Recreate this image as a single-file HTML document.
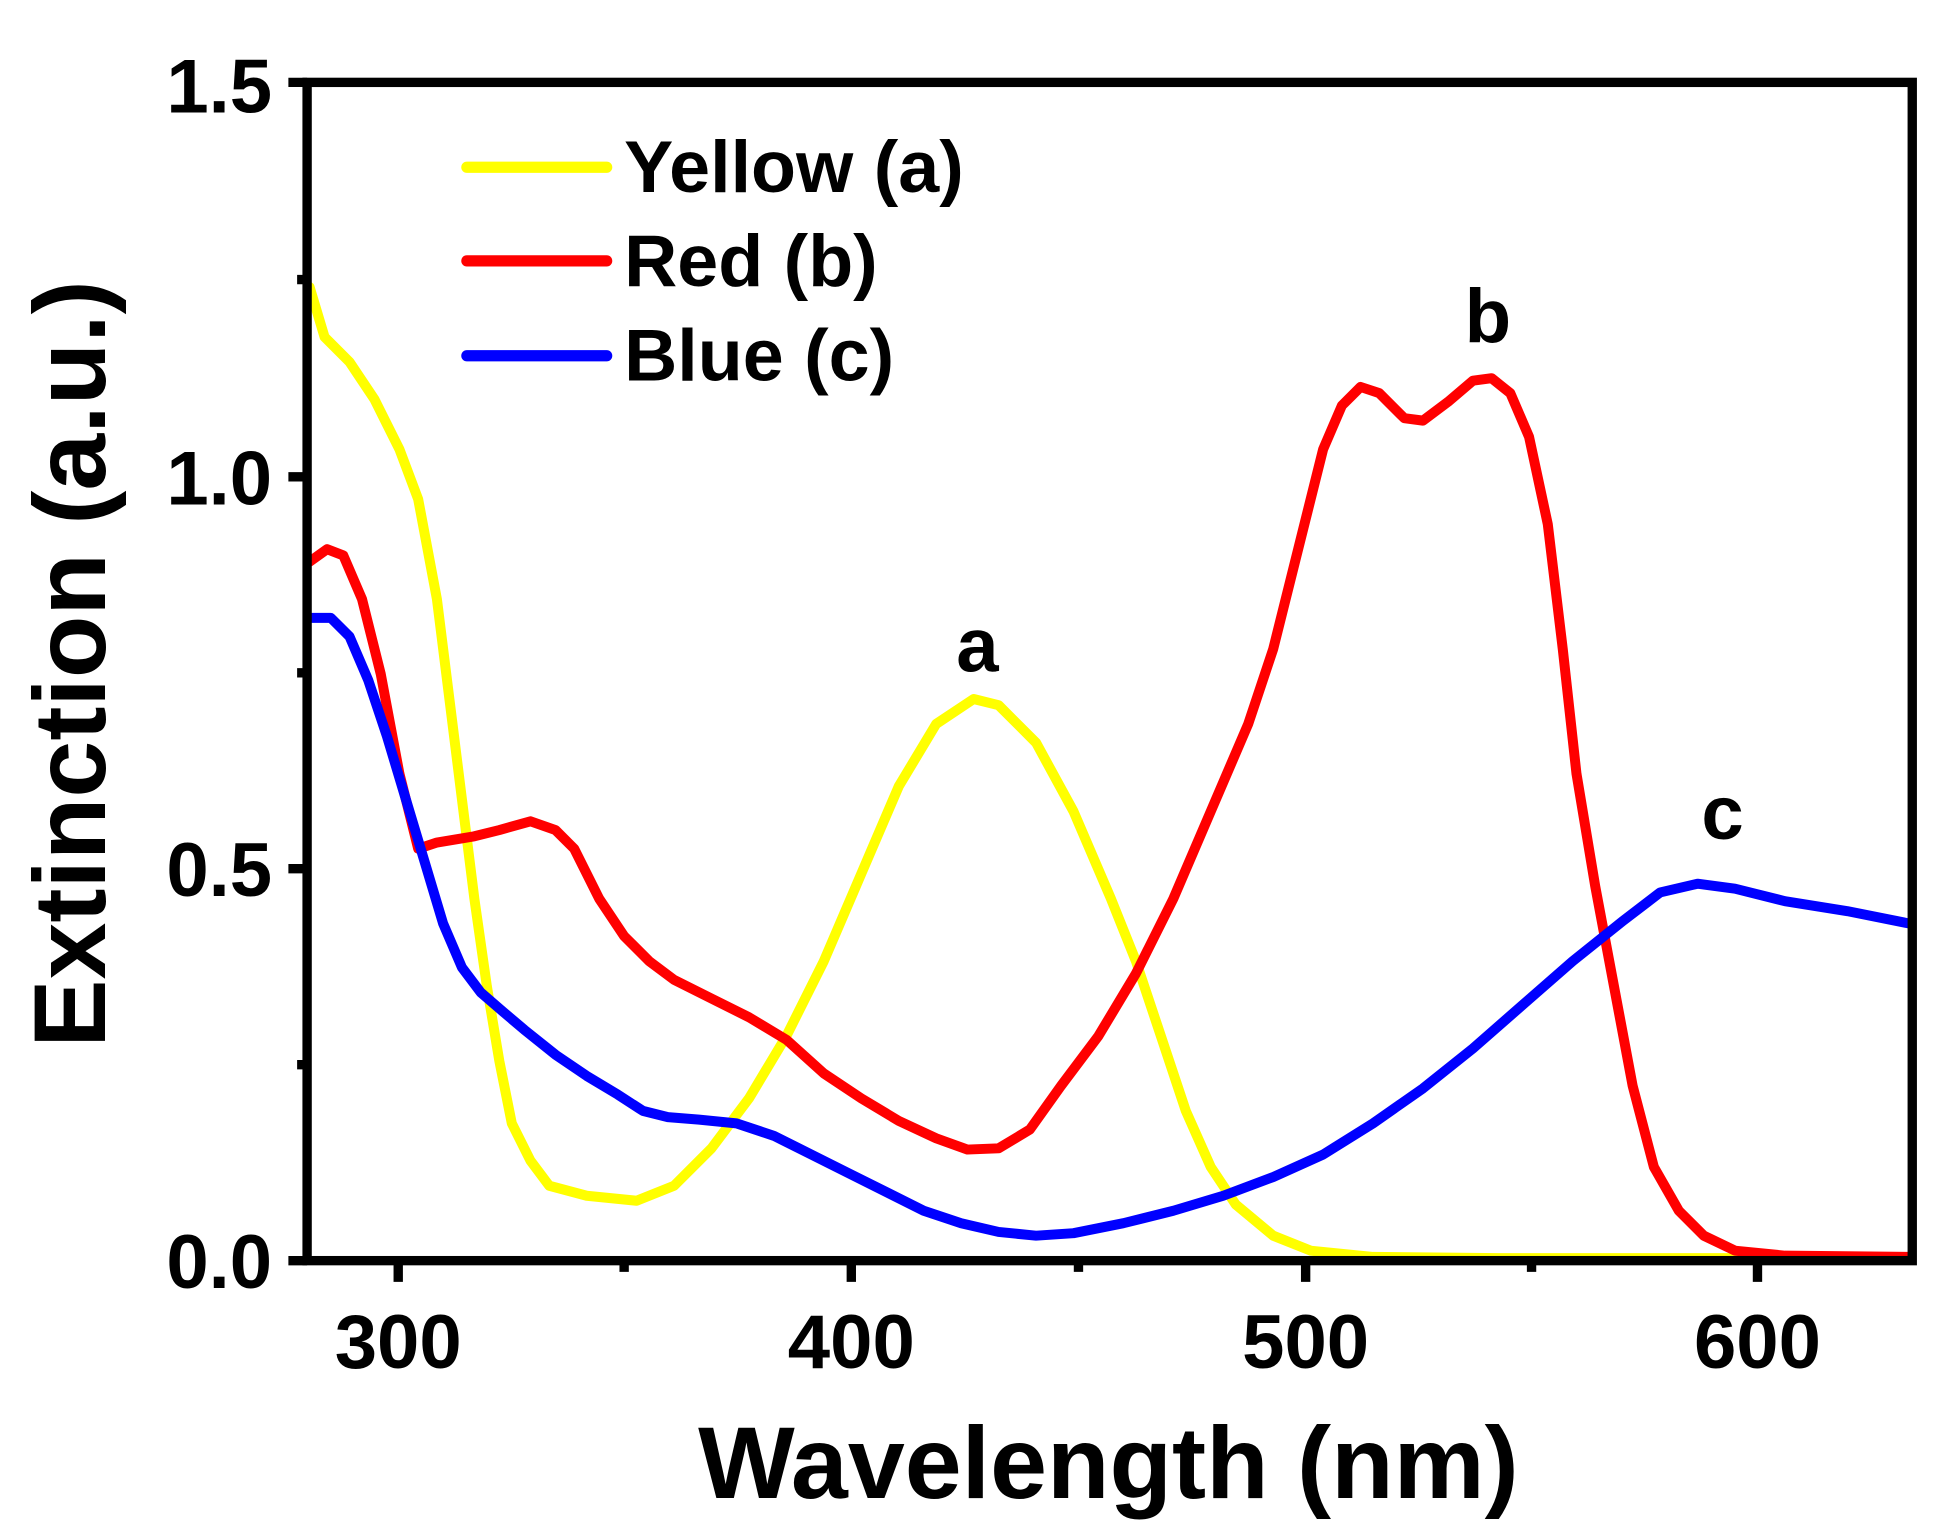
<!DOCTYPE html>
<html><head><style>html,body{margin:0;padding:0;background:#fff}svg{display:block}</style></head>
<body>
<svg width="1951" height="1534" viewBox="0 0 1563 1229" xmlns="http://www.w3.org/2000/svg" font-family="Liberation Sans, Arial, sans-serif" font-weight="bold">
<rect width="1563" height="1229" fill="#fff"/>
<g fill="none" stroke-linejoin="round" stroke-linecap="round" stroke-width="8">
<polyline stroke="#ffff00" points="248,230 260,270 280,290 300,320 320,360 335,400 350,480 360,560 370,640 380,720 390,790 400,850 410,900 425,930 440,950 470,958 510,962 540,950 570,920 600,880 630,830 660,770 690,700 720,630 750,580 780,560 800,565 830,595 860,650 890,720 910,770 930,830 950,890 970,935 990,965 1020,990 1050,1002 1100,1007 1200,1008 1530,1008"/>
<polyline stroke="#ff0000" points="248,450 262,440 275,445 290,480 305,540 320,620 335,680 350,675 380,670 400,665 425,658 445,665 460,680 480,720 500,750 520,770 540,785 570,800 600,815 630,833 660,860 690,880 720,898 750,912 775,921 800,920 825,905 850,870 880,830 910,780 940,720 970,650 1000,580 1020,520 1040,440 1060,360 1075,325 1090,310 1105,315 1125,335 1140,337 1160,322 1180,305 1195,303 1210,315 1225,350 1240,420 1252,520 1263,620 1278,710 1293,790 1308,870 1325,935 1345,970 1365,990 1390,1002 1430,1006 1530,1007"/>
<polyline stroke="#0000ff" points="250,495 265,495 280,510 295,545 310,590 325,640 340,690 355,740 370,775 385,795 400,808 420,825 445,845 470,862 495,877 515,890 535,895 560,897 590,900 620,910 650,925 680,940 710,955 740,970 770,980 800,987 830,990 860,988 900,980 940,970 980,958 1020,943 1060,925 1100,900 1140,872 1180,840 1220,805 1260,770 1300,738 1330,715 1360,708 1390,712 1430,722 1480,730 1530,740"/>
</g>
<g stroke="#000" stroke-width="7.5" fill="none">
<rect x="246" y="66" width="1286" height="944"/>
<path d="M231,66H246M231,382H246M231,696H246M231,1010H246M238,224H246M238,539H246M238,853H246M319,1010V1027M682,1010V1027M1046,1010V1027M1408,1010V1027M500,1010V1019M864,1010V1019M1227,1010V1019"/>
</g>
<g font-size="61" fill="#000">
<g text-anchor="end"><text x="218" y="90">1.5</text><text x="218" y="404">1.0</text><text x="218" y="718">0.5</text><text x="218" y="1032">0.0</text></g>
<g text-anchor="middle"><text x="319" y="1096">300</text><text x="682" y="1096">400</text><text x="1046" y="1096">500</text><text x="1408" y="1096">600</text>
<text x="783" y="538">a</text><text x="1192" y="274">b</text><text x="1380" y="672">c</text></g>
<g font-size="59"><text x="500" y="154">Yellow (a)</text><text x="500" y="229">Red (b)</text><text x="500" y="305">Blue (c)</text></g>
<text x="888" y="1200" font-size="82" text-anchor="middle">Wavelength (nm)</text>
<text transform="translate(84,532) rotate(-90)" font-size="82" text-anchor="middle">Extinction (a.u.)</text>
</g>
<g stroke-width="9" stroke-linecap="round">
<line x1="374" y1="134" x2="486" y2="134" stroke="#ffff00"/>
<line x1="374" y1="209" x2="486" y2="209" stroke="#ff0000"/>
<line x1="374" y1="285" x2="486" y2="285" stroke="#0000ff"/>
</g>
</svg>
</body></html>
